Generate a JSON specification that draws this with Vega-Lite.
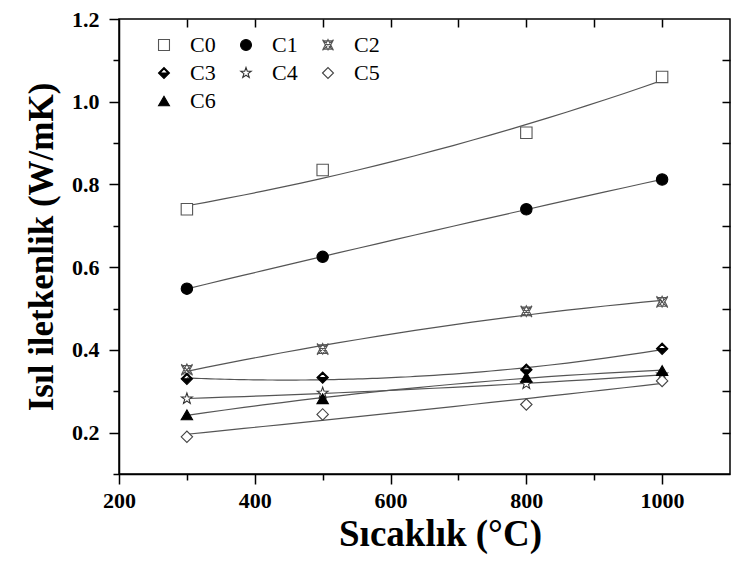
{
  "$schema": "https://vega.github.io/schema/vega-lite/v6.json",
  "autosize": "none",
  "width": 611,
  "height": 455,
  "padding": {"left": 119, "top": 19, "right": 2, "bottom": 91},
  "background": "white",
  "data": {
    "values": [
      {"series": "C0", "T": 300, "k": 0.74},
      {"series": "C0", "T": 500, "k": 0.835},
      {"series": "C0", "T": 800, "k": 0.925},
      {"series": "C0", "T": 1000, "k": 1.06},
      {"series": "C1", "T": 300, "k": 0.548},
      {"series": "C1", "T": 500, "k": 0.625},
      {"series": "C1", "T": 800, "k": 0.74},
      {"series": "C1", "T": 1000, "k": 0.812},
      {"series": "C2", "T": 300, "k": 0.352},
      {"series": "C2", "T": 500, "k": 0.402},
      {"series": "C2", "T": 800, "k": 0.493},
      {"series": "C2", "T": 1000, "k": 0.516},
      {"series": "C3", "T": 300, "k": 0.33},
      {"series": "C3", "T": 500, "k": 0.333},
      {"series": "C3", "T": 800, "k": 0.352},
      {"series": "C3", "T": 1000, "k": 0.403},
      {"series": "C4", "T": 300, "k": 0.282},
      {"series": "C4", "T": 500, "k": 0.296},
      {"series": "C4", "T": 800, "k": 0.318},
      {"series": "C4", "T": 1000, "k": 0.34},
      {"series": "C5", "T": 300, "k": 0.19},
      {"series": "C5", "T": 500, "k": 0.244},
      {"series": "C5", "T": 800, "k": 0.268},
      {"series": "C5", "T": 1000, "k": 0.325},
      {"series": "C6", "T": 300, "k": 0.243},
      {"series": "C6", "T": 500, "k": 0.282},
      {"series": "C6", "T": 800, "k": 0.334},
      {"series": "C6", "T": 1000, "k": 0.35}
    ]
  },
  "config": {
    "view": {"stroke": "black", "strokeWidth": 1.5},
    "axis": {
      "domainColor": "black",
      "domainWidth": 1.5,
      "tickColor": "black",
      "tickWidth": 1.5,
      "grid": false,
      "labelFlush": false,
      "labelFont": "Liberation Serif",
      "labelFontWeight": "bold",
      "labelFontSize": 22,
      "labelColor": "black",
      "titleFont": "Liberation Serif",
      "titleFontWeight": "bold",
      "titleColor": "black"
    }
  },
  "resolve": {"axis": {"x": "independent", "y": "independent"}},
  "layer": [
    {
      "transform": [
        {"regression": "k", "on": "T", "groupby": ["series"], "method": "poly", "order": 2, "extent": [300, 1000]}
      ],
      "mark": {"type": "line", "color": "#555555", "strokeWidth": 1.2},
      "encoding": {
        "x": {
          "field": "T", "type": "quantitative",
          "scale": {"domain": [200, 1100], "nice": false, "zero": false},
          "axis": {"orient": "bottom", "values": [300, 500, 700, 900], "tickSize": 6, "labels": false, "domain": false, "title": null}
        },
        "y": {
          "field": "k", "type": "quantitative",
          "scale": {"domain": [0.1, 1.2], "nice": false, "zero": false},
          "axis": {"orient": "left", "values": [0.1, 0.3, 0.5, 0.7, 0.9, 1.1], "tickSize": 6, "labels": false, "domain": false, "title": null}
        },
        "detail": {"field": "series"}
      }
    },
    {
      "mark": {"type": "point", "opacity": 0},
      "encoding": {
        "x": {
          "field": "T", "type": "quantitative",
          "axis": {"orient": "top", "values": [300, 400, 500, 600, 700, 800, 900, 1000], "tickSize": -8, "labels": false, "domain": false, "title": null}
        },
        "y": {
          "field": "k", "type": "quantitative",
          "axis": {"orient": "right", "values": [0.2, 0.3, 0.4, 0.5, 0.6, 0.7, 0.8, 0.9, 1.0, 1.1], "tickSize": -8, "labels": false, "domain": false, "title": null}
        }
      }
    },
    {
      "mark": {"type": "point", "filled": false, "size": 130, "strokeWidth": 1.1, "opacity": 1},
      "encoding": {
        "x": {
          "field": "T", "type": "quantitative",
          "axis": {"orient": "bottom", "values": [200, 400, 600, 800, 1000], "format": "d", "tickSize": 10, "labelPadding": 6, "title": "Sıcaklık (°C)", "titleFontSize": 37, "titlePadding": 5, "titleX": 321}
        },
        "y": {
          "field": "k", "type": "quantitative",
          "axis": {"orient": "left", "values": [0.2, 0.4, 0.6, 0.8, 1.0, 1.2], "format": ".1f", "tickSize": 10, "labelPadding": 10, "title": "Isıl iletkenlik (W/mK)", "titleFontSize": 35, "titlePadding": 12}
        },
        "shape": {
          "field": "series", "type": "nominal",
          "scale": {
            "domain": ["C0", "C1", "C2", "C3", "C4", "C5", "C6"],
            "range": [
              "square",
              "circle",
              "M-1,-1L1,1M1,-1L-1,1M0,-1L0.9,0.75L-0.9,0.75ZM0,0.9L0.9,-0.75L-0.9,-0.75Z",
              "M-1,0L0,1L1,0L0,-1ZM-0.74,0L0,-0.74L0.74,0Z",
              "M0,-1L0.235,-0.324L0.951,-0.309L0.38,0.124L0.588,0.809L0,0.4L-0.588,0.809L-0.38,0.124L-0.951,-0.309L-0.235,-0.324Z",
              "diamond",
              "triangle-up"
            ]
          },
          "legend": {"title": null, "orient": "none", "direction": "horizontal", "legendX": 34, "legendY": 15, "columns": 3, "labelFont": "Liberation Serif", "labelFontSize": 22, "labelColor": "black", "labelOffset": 15, "columnPadding": 19, "rowPadding": 6, "symbolSize": 120, "symbolStrokeWidth": 1.1, "padding": 0}
        },
        "fill": {
          "field": "series", "type": "nominal",
          "scale": {
            "domain": ["C0", "C1", "C2", "C3", "C4", "C5", "C6"],
            "range": ["white", "black", "transparent", "black", "white", "white", "black"]
          },
          "legend": {"title": null, "orient": "none", "direction": "horizontal", "legendX": 34, "legendY": 15, "columns": 3, "labelFont": "Liberation Serif", "labelFontSize": 22, "labelColor": "black", "labelOffset": 15, "columnPadding": 19, "rowPadding": 6, "symbolSize": 120, "symbolStrokeWidth": 1.1, "padding": 0}
        },
        "stroke": {
          "field": "series", "type": "nominal",
          "scale": {
            "domain": ["C0", "C1", "C2", "C3", "C4", "C5", "C6"],
            "range": ["#555555", "black", "#555555", "black", "#333333", "#444444", "black"]
          },
          "legend": {"title": null, "orient": "none", "direction": "horizontal", "legendX": 34, "legendY": 15, "columns": 3, "labelFont": "Liberation Serif", "labelFontSize": 22, "labelColor": "black", "labelOffset": 15, "columnPadding": 19, "rowPadding": 6, "symbolSize": 120, "symbolStrokeWidth": 1.1, "padding": 0}
        }
      }
    }
  ]
}
